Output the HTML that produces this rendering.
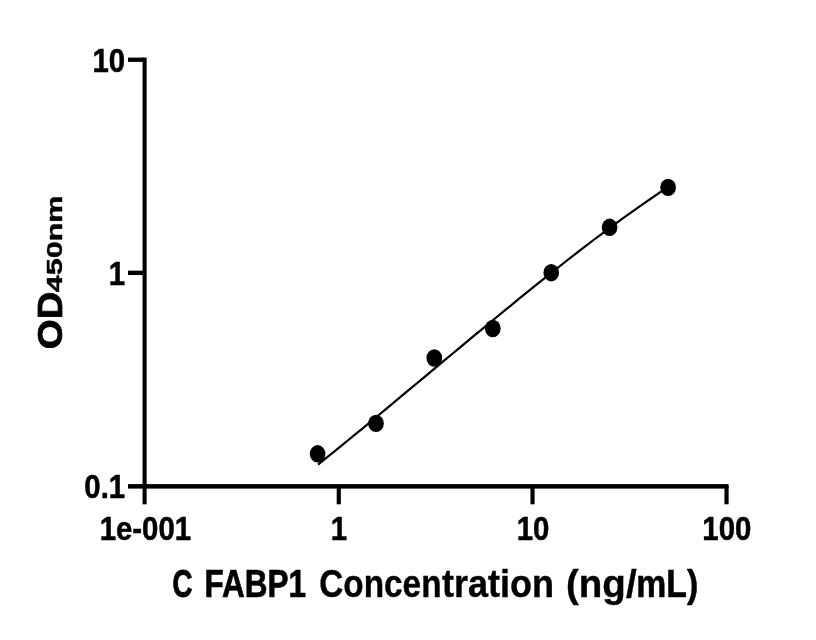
<!DOCTYPE html>
<html lang="en">
<head>
<meta charset="utf-8">
<title>C FABP1 standard curve</title>
<style>
html,body{margin:0;padding:0;background:#fff;}
body{width:816px;height:640px;overflow:hidden;}
svg{display:block;}
text{font-family:"Liberation Sans",sans-serif;font-weight:bold;fill:#000;}
</style>
</head>
<body>
<svg width="816" height="640" viewBox="0 0 816 640">
<rect x="0" y="0" width="816" height="640" fill="#ffffff"/>
<g fill="#000" stroke="none">
<!-- y axis -->
<rect x="142.55" y="57.6" width="4.1" height="446.7"/>
<!-- x axis -->
<rect x="128" y="484.1" width="600.6" height="4.5"/>
<!-- y ticks -->
<rect x="128" y="57.6" width="16" height="4.3"/>
<rect x="128" y="270.65" width="16" height="4.4"/>
<!-- x ticks -->
<rect x="336.7" y="486" width="4.15" height="18.3"/>
<rect x="530.45" y="486" width="4.15" height="18.3"/>
<rect x="724.45" y="486" width="4.15" height="18.3"/>
</g>
<path d="M318.0,464.6 L325.4,458.6 L332.9,452.6 L340.3,446.6 L347.8,440.5 L355.2,434.4 L362.7,428.3 L370.1,422.1 L377.6,416.0 L385.0,409.8 L392.5,403.6 L399.9,397.4 L407.4,391.2 L414.8,385.0 L422.3,378.8 L429.7,372.6 L437.2,366.4 L444.6,360.2 L452.1,354.0 L459.5,347.8 L467.0,341.6 L474.4,335.4 L481.9,329.3 L489.3,323.1 L496.8,317.0 L504.2,310.9 L511.7,304.8 L519.1,298.7 L526.6,292.7 L534.0,286.7 L541.5,280.7 L548.9,274.8 L556.4,268.9 L563.8,263.0 L571.3,257.2 L578.7,251.4 L586.2,245.7 L593.6,240.0 L601.1,234.4 L608.5,228.9 L616.0,223.4 L623.4,217.9 L630.9,212.6 L638.3,207.3 L645.8,202.1 L653.2,197.0 L660.7,191.9 L668.1,187.0" fill="none" stroke="#000" stroke-width="2.2" stroke-linecap="butt" stroke-linejoin="round"/>
<g fill="#000">
<ellipse cx="317.6" cy="453.8" rx="7.85" ry="8.7"/>
<ellipse cx="376.0" cy="423.4" rx="7.85" ry="8.7"/>
<ellipse cx="434.3" cy="358.0" rx="7.85" ry="8.7"/>
<ellipse cx="492.8" cy="328.5" rx="7.85" ry="8.7"/>
<ellipse cx="551.25" cy="272.7" rx="7.85" ry="8.7"/>
<ellipse cx="609.6" cy="227.3" rx="7.85" ry="8.7"/>
<ellipse cx="668.1" cy="187.4" rx="7.85" ry="8.7"/>
</g>
<g>
<text transform="translate(125.2,71.7) scale(0.877,1)" text-anchor="end" font-size="33.5" stroke="#000" stroke-width="0.5" vector-effect="non-scaling-stroke" stroke-linejoin="round">10</text>
<text transform="translate(125.2,284.7) scale(0.877,1)" text-anchor="end" font-size="33.5" stroke="#000" stroke-width="0.5" vector-effect="non-scaling-stroke" stroke-linejoin="round">1</text>
<text transform="translate(125.2,498.1) scale(0.877,1)" text-anchor="end" font-size="33.5" stroke="#000" stroke-width="0.5" vector-effect="non-scaling-stroke" stroke-linejoin="round">0.1</text>
<text transform="translate(145.4,540.3) scale(0.877,1)" text-anchor="middle" font-size="33.5" stroke="#000" stroke-width="0.5" vector-effect="non-scaling-stroke" stroke-linejoin="round">1e-001</text>
<text transform="translate(338.9,540.3) scale(0.877,1)" text-anchor="middle" font-size="33.5" stroke="#000" stroke-width="0.5" vector-effect="non-scaling-stroke" stroke-linejoin="round">1</text>
<text transform="translate(533.0,540.3) scale(0.877,1)" text-anchor="middle" font-size="33.5" stroke="#000" stroke-width="0.5" vector-effect="non-scaling-stroke" stroke-linejoin="round">10</text>
<text transform="translate(726.8,540.3) scale(0.877,1)" text-anchor="middle" font-size="33.5" stroke="#000" stroke-width="0.5" vector-effect="non-scaling-stroke" stroke-linejoin="round">100</text>
</g>
<text y="597" font-size="38.8" stroke-linejoin="round"><tspan x="172.49" textLength="19.97" lengthAdjust="spacingAndGlyphs" stroke="#000" stroke-width="1.0">C</tspan> <tspan x="204.42" textLength="101.55" lengthAdjust="spacingAndGlyphs" stroke="#000" stroke-width="0.7">FABP1</tspan> <tspan x="319.27" textLength="122.26" lengthAdjust="spacingAndGlyphs" stroke="#000" stroke-width="0.4">Concen</tspan><tspan x="442.04" textLength="112.01" lengthAdjust="spacingAndGlyphs" stroke="#000" stroke-width="0.4">tration</tspan> <tspan x="566.06" textLength="70.54" lengthAdjust="spacingAndGlyphs" stroke="#000" stroke-width="0.4">(ng/</tspan><tspan x="636.27" textLength="61.88" lengthAdjust="spacingAndGlyphs" stroke="#000" stroke-width="0.6">mL)</tspan></text>
<g stroke="#000" stroke-linejoin="round"><text transform="translate(62.2,349.2) rotate(-90) scale(1.094,1)" font-size="35.1" stroke-width="0.8" vector-effect="non-scaling-stroke">OD</text><text transform="translate(62.2,292.3) rotate(-90) scale(1.415,1)" font-size="21.6" stroke-width="0.5" vector-effect="non-scaling-stroke">450nm</text></g>
</svg>
</body>
</html>
